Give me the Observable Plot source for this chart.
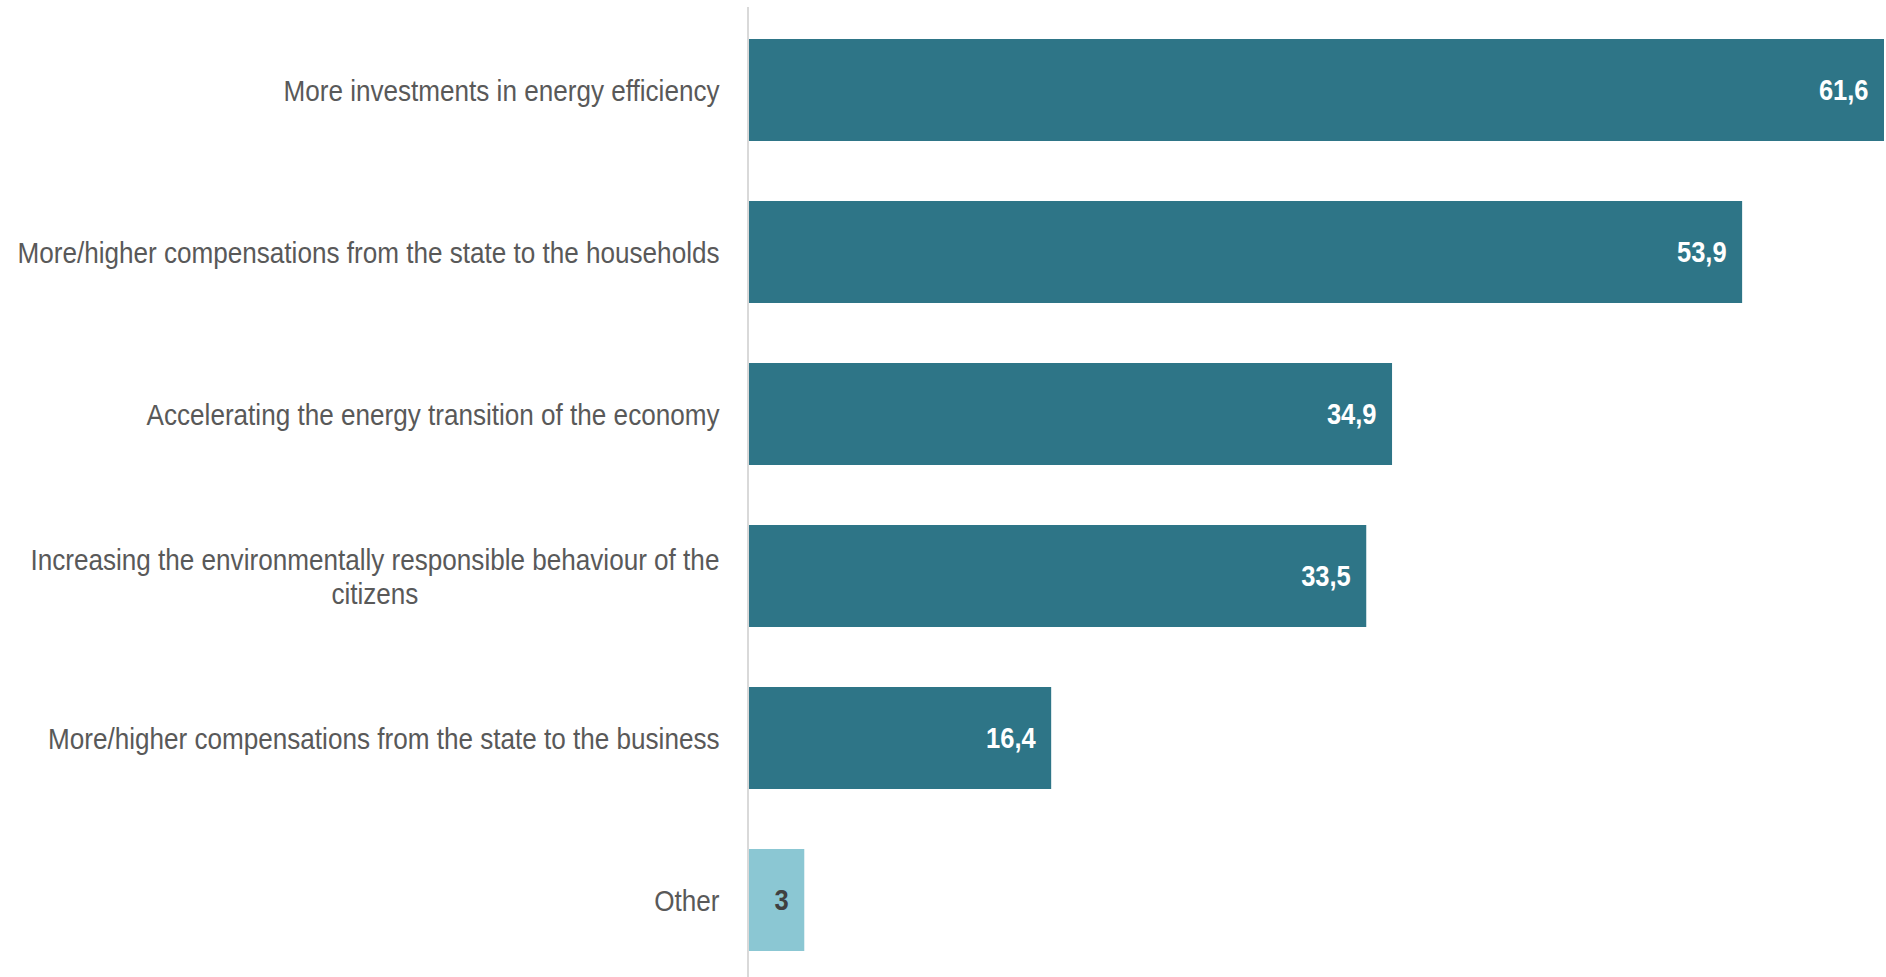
<!DOCTYPE html>
<html>
<head>
<meta charset="utf-8">
<script src="https://cdn.jsdelivr.net/npm/d3@7"></script>
<script src="https://cdn.jsdelivr.net/npm/@observablehq/plot@0.6"></script>
<style>
  html, body { margin: 0; padding: 0; background: #ffffff; }
  #chart svg { display: block; }
</style>
</head>
<body>
<div id="chart"></div>
<script>
const categories = [
  "More investments in energy efficiency",
  "More/higher compensations from the state to the households",
  "Accelerating the energy transition of the economy",
  "Increasing the environmentally responsible behaviour of the citizens",
  "More/higher compensations from the state to the business",
  "Other"
];
const tickLabels = [
  "More investments in energy efficiency",
  "More/higher compensations from the state to the households",
  "Accelerating the energy transition of the economy",
  "Increasing the environmentally responsible behaviour of the\ncitizens",
  "More/higher compensations from the state to the business",
  "Other"
];
const values = [61.6, 53.9, 34.9, 33.5, 16.4, 3];
const valueLabels = ["61,6", "53,9", "34,9", "33,5", "16,4", "3"];
const groups = ["main", "main", "main", "main", "main", "other"];

const data = categories.map((c, i) => ({
  category: c, value: values[i], label: valueLabels[i], group: groups[i]
}));

const FONT = "'Liberation Sans Narrow', 'Arial Narrow', 'Liberation Sans', Arial, sans-serif";

const chart = Plot.plot({
  width: 1886,
  height: 977,
  marginLeft: 749,
  marginRight: 2,
  marginTop: 7,
  marginBottom: 0,
  style: { fontFamily: FONT, background: "#ffffff" },
  x: { domain: [0, 61.6], axis: null },
  y: { domain: categories, paddingInner: 0.373, paddingOuter: 0.17, align: 0.545, axis: null },
  color: { domain: ["main", "other"], range: ["#2E7587", "#8BC7D3"] },
  marks: [
    Plot.barX(data, { y: "category", x: "value", fill: "group" }),
    Plot.ruleX([0], { stroke: "#d9d9d9", strokeWidth: 2, dx: -1.5 }),
    Plot.axisY({
      tickSize: 0,
      tickPadding: 30,
      fontSize: 30,
      fill: "#595959",
      lineHeight: 1.13,
      label: null,
      tickFormat: d => tickLabels[categories.indexOf(d)],
      className: "cat-labels"
    }),
    Plot.text(data.filter(d => d.group === "main"), {
      y: "category", x: "value", text: "label",
      textAnchor: "end", dx: -16, fill: "#ffffff",
      fontWeight: "bold", fontSize: 30
    }),
    Plot.text(data.filter(d => d.group === "other"), {
      y: "category", x: "value", text: "label",
      textAnchor: "end", dx: -16, fill: "#404040",
      fontWeight: "bold", fontSize: 30
    })
  ]
});

document.getElementById("chart").appendChild(chart);

// Emulate a condensed typeface: center multi-line labels, then squeeze every text horizontally
// about its anchor point (right edge for end-anchored texts).
chart.querySelectorAll("text").forEach(t => {
  const spans = t.querySelectorAll("tspan");
  const isCat = t.closest(".cat-labels") !== null || spans.length > 1;
  if (spans.length > 1) {
    const bb0 = t.getBBox();
    const cx = bb0.x + bb0.width / 2;
    t.setAttribute("text-anchor", "middle");
    spans.forEach(s => s.setAttribute("x", cx));
  }
  const bb = t.getBBox();
  const ax = bb.x + bb.width;
  const s = isCat ? 0.87 : 0.85;
  const prev = t.getAttribute("transform") || "";
  t.setAttribute("transform", `${prev} translate(${ax},0) scale(${s},1) translate(${-ax},0)`.trim());
});
</script>
</body>
</html>
